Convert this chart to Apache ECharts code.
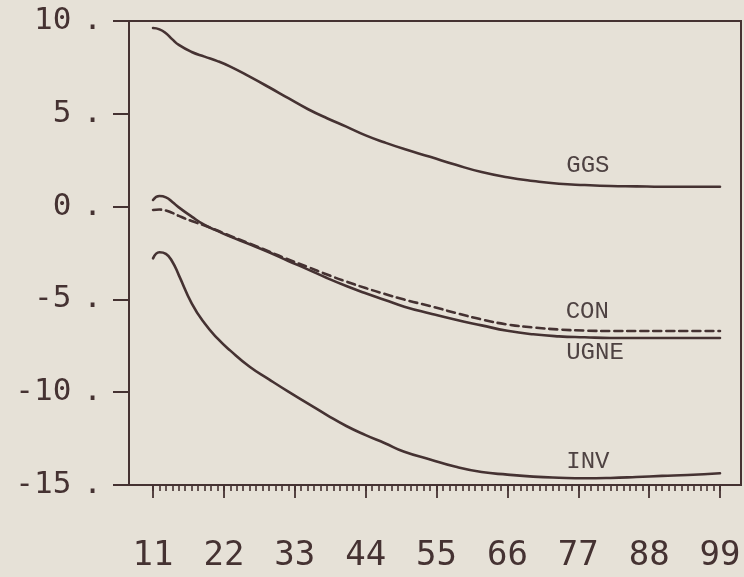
<!DOCTYPE html>
<html>
<head>
<meta charset="utf-8">
<script src="https://cdn.jsdelivr.net/npm/echarts@6/dist/echarts.min.js"></script>
<style>
  html, body { margin: 0; padding: 0; background: #e6e1d7; }
  #chart { width: 744px; height: 577px; }
</style>
</head>
<body>
<div id="chart"></div>
<script>
// Sample periods shared by all four series
const periods = [11, 12, 13, 14, 15, 17, 19, 21, 23, 26, 29, 32, 35, 38, 41, 44, 47, 50, 54, 58, 62, 66, 70, 74, 78, 82, 86, 90, 94, 99];

const ggs  = [9.62, 9.55, 9.34, 9.01, 8.71, 8.33, 8.08, 7.84, 7.54, 7.00, 6.43, 5.84, 5.26, 4.76, 4.31, 3.84, 3.45, 3.10, 2.68, 2.25, 1.86, 1.58, 1.38, 1.23, 1.16, 1.11, 1.09, 1.07, 1.07, 1.07];
const ugne = [0.36, 0.57, 0.50, 0.25, -0.04, -0.54, -0.99, -1.31, -1.62, -2.03, -2.46, -2.93, -3.38, -3.85, -4.28, -4.67, -5.03, -5.39, -5.76, -6.10, -6.40, -6.69, -6.88, -6.99, -7.04, -7.08, -7.08, -7.08, -7.08, -7.08];
const con  = [-0.18, -0.16, -0.21, -0.34, -0.50, -0.78, -1.02, -1.29, -1.58, -1.99, -2.42, -2.85, -3.25, -3.66, -4.04, -4.39, -4.71, -5.01, -5.36, -5.73, -6.08, -6.35, -6.51, -6.62, -6.68, -6.70, -6.70, -6.70, -6.70, -6.70];
const inv  = [-2.79, -2.46, -2.55, -2.97, -3.69, -5.21, -6.29, -7.10, -7.76, -8.63, -9.31, -9.97, -10.60, -11.23, -11.82, -12.31, -12.75, -13.21, -13.62, -14.02, -14.30, -14.44, -14.55, -14.61, -14.64, -14.62, -14.57, -14.51, -14.46, -14.37];

// Axis ticks
const minorTicks = [];
for (let y = 11; y <= 99; y++) minorTicks.push(y);
const majorTicks = [11, 22, 33, 44, 55, 66, 77, 88, 99];

// Curve captions, anchored in data space
const captions = [
  { name: 'GGS',  at: [78.5, 2.19] },
  { name: 'CON',  at: [78.4, -5.68] },
  { name: 'UGNE', at: [79.6, -7.89] },
  { name: 'INV',  at: [78.5, -13.76] }
];

const ink = '#453232';
const captionInk = '#4e4242';

function pairs(vals) {
  return periods.map((p, i) => [p, vals[i]]);
}

function curve(name, vals, dashed) {
  const cap = captions.find(c => c.name === name);
  return {
    name: name,
    type: 'line',
    data: pairs(vals),
    smooth: 0.5,
    showSymbol: false,
    silent: true,
    lineStyle: { color: ink, width: 2.6, type: dashed ? [8, 5] : 'solid', cap: 'round', join: 'round' },
    markPoint: {
      symbol: 'circle',
      symbolSize: 0,
      silent: true,
      data: [{ coord: cap.at, name: cap.name }],
      label: {
        show: true,
        position: 'inside',
        formatter: cap.name,
        color: captionInk,
        fontFamily: 'Liberation Mono',
        fontSize: 24
      }
    }
  };
}

const chart = echarts.init(document.getElementById('chart'), null, { renderer: 'canvas' });

chart.setOption({
  animation: false,
  backgroundColor: '#e6e1d7',
  grid: {
    left: 129, right: 3, top: 21, bottom: 92,
    show: true,
    borderColor: ink,
    borderWidth: 2,
    backgroundColor: 'transparent'
  },
  xAxis: [
    {
      type: 'value',
      min: 7.27, max: 102.26,
      position: 'bottom',
      splitLine: { show: false },
      axisLine: { show: true, onZero: false, lineStyle: { color: ink, width: 2 } },
      axisTick: { show: true, customValues: minorTicks, length: 6, lineStyle: { color: ink, width: 1.6 } },
      axisLabel: { show: false }
    },
    {
      type: 'value',
      min: 7.27, max: 102.26,
      position: 'bottom',
      splitLine: { show: false },
      axisLine: { show: false, onZero: false },
      axisTick: { show: true, customValues: majorTicks, length: 13, lineStyle: { color: ink, width: 1.8 } },
      axisLabel: {
        show: true,
        customValues: majorTicks,
        margin: 54,
        color: ink,
        fontFamily: 'DejaVu Sans Mono',
        fontSize: 34
      }
    }
  ],
  yAxis: {
    type: 'value',
    min: -15, max: 10, interval: 5,
    splitLine: { show: false },
    axisLine: { show: true, lineStyle: { color: ink, width: 2 } },
    axisTick: { show: true, length: 16, lineStyle: { color: ink, width: 2 } },
    axisLabel: {
      show: true,
      margin: 27,
      color: ink,
      formatter: v => '{n|' + v + '}{p|.}',
      rich: {
        n: { fontFamily: 'DejaVu Sans Mono', fontSize: 31, color: ink },
        p: { fontFamily: 'DejaVu Sans Mono', fontSize: 31, color: ink, padding: [0, 0, 0, 12] }
      }
    }
  },
  series: [
    curve('GGS', ggs, false),
    curve('UGNE', ugne, false),
    curve('CON', con, true),
    curve('INV', inv, false)
  ]
});
</script>
</body>
</html>
